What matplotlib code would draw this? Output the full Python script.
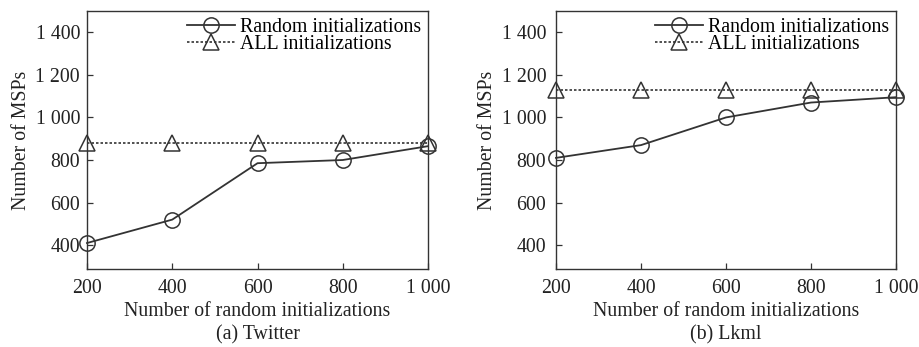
import matplotlib
matplotlib.use("Agg")
import matplotlib.pyplot as plt
from matplotlib.ticker import FixedLocator

plt.rcParams['font.family'] = ['Liberation Serif', 'DejaVu Serif']
plt.rcParams['font.size'] = 14.3

x_vals = [200, 400, 600, 800, 1000]
x_ticklabels = ['200', '400', '600', '800', '1 000']
y_ticks = [400, 600, 800, 1000, 1200, 1400]
y_ticklabels = ['400', '600', '800', '1 000', '1 200', '1 400']

twitter_random = [410, 520, 785, 800, 865]
twitter_all = [880, 880, 880, 880, 880]
lkml_random = [810, 870, 1000, 1070, 1095]
lkml_all = [1130, 1130, 1130, 1130, 1130]

panels = [
    ("(a) Twitter", twitter_random, twitter_all),
    ("(b) Lkml", lkml_random, lkml_all),
]

fig = plt.figure(figsize=(9.2, 3.47), dpi=100)
positions = [
    (87 / 920, 1 - 269 / 347, 341 / 920, 258 / 347),
    (556 / 920, 1 - 269 / 347, 340 / 920, 258 / 347),
]
ypads = [5, 7]
col = '#333333'
tcol = '#222222'
for (title, rnd, alli), pos, yp in zip(panels, positions, ypads):
    ax = fig.add_axes(pos)
    ax.plot(x_vals, rnd, '-', color=col, lw=1.3, marker='o', ms=11,
            mfc='none', mec=col, mew=1.1, label='Random initializations', clip_on=False, zorder=3)
    ax.plot(x_vals, alli, linestyle=(0, (1.5, 1.2)), color=col, lw=1.2, marker='^', ms=11,
            mfc='none', mec=col, mew=1.1, label='ALL initializations', clip_on=False, zorder=3)
    ax.set_xlim(200, 1000)
    ax.set_ylim(288, 1500)
    ax.xaxis.set_major_locator(FixedLocator(x_vals))
    ax.set_xticklabels(x_ticklabels)
    ax.yaxis.set_major_locator(FixedLocator(y_ticks))
    ax.set_yticklabels(y_ticklabels)
    ax.tick_params(direction='in', length=4, width=0.9, colors=col, labelcolor=tcol)
    ax.tick_params(axis='x', pad=7)
    ax.tick_params(axis='y', pad=yp)
    for s in ax.spines.values():
        s.set_color(col)
        s.set_linewidth(1.0)
    ax.set_ylabel('Number of MSPs', color=tcol, labelpad=3)
    ax.set_xlabel('Number of random initializations', color=tcol, labelpad=3)
    x0, _, w, _ = pos
    fig.text(x0 + w / 2, 1 - 335 / 347, title, ha='center', va='center', color=tcol)
    leg = ax.legend(loc='upper right', frameon=True, handlelength=2.4, handletextpad=0.25,
                    borderaxespad=0.25, borderpad=0.1, labelspacing=-0.08, fancybox=False)
    leg.get_frame().set_edgecolor('none')
    leg.get_frame().set_facecolor('white')
    leg.get_frame().set_alpha(1.0)

fig.savefig('out.png', dpi=100)
